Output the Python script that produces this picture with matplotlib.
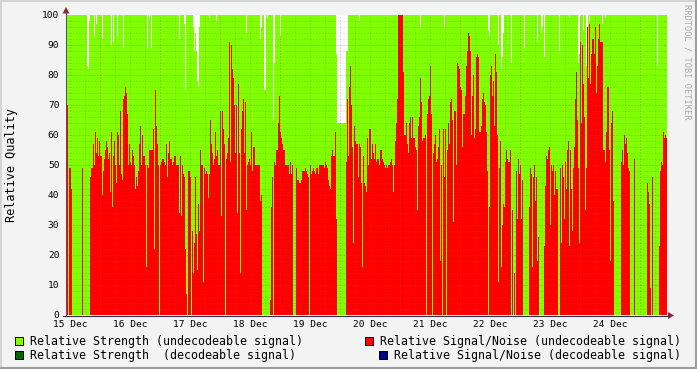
import numpy as np
import matplotlib
matplotlib.use("Agg")
import matplotlib.pyplot as plt
import matplotlib.dates as mdates
from matplotlib.patches import Rectangle, Polygon

# relative signal/noise, one value per 24 min step starting 15 Dec 10:48
snr = [
    70, 0, 49, 49, 42, 0, 0, 0, 0, 0, 0, 0, 0, 0, 0, 49, 0, 0, 0, 0,
    0, 0, 0, 46, 49, 49, 57, 50, 61, 54, 59, 53, 58, 53, 53, 40, 48, 52, 55, 58,
    56, 52, 54, 41, 61, 36, 53, 58, 50, 44, 61, 60, 50, 68, 47, 45, 72, 73, 76, 74,
    67, 50, 57, 51, 50, 55, 53, 50, 42, 46, 43, 48, 57, 63, 50, 60, 53, 53, 50, 16,
    50, 49, 55, 55, 55, 55, 62, 22, 75, 63, 57, 50, 0, 50, 51, 52, 52, 51, 50, 57,
    46, 54, 58, 52, 52, 50, 51, 53, 53, 50, 50, 50, 34, 53, 33, 50, 47, 46, 22, 7,
    0, 48, 48, 46, 0, 28, 14, 24, 46, 27, 15, 37, 28, 55, 50, 50, 11, 49, 47, 48,
    47, 39, 47, 65, 57, 54, 50, 52, 61, 53, 55, 50, 50, 68, 33, 68, 62, 57, 0, 52,
    54, 59, 91, 51, 90, 82, 79, 70, 54, 70, 34, 77, 54, 14, 62, 68, 72, 54, 71, 35,
    50, 51, 52, 50, 61, 48, 56, 56, 50, 50, 50, 50, 50, 38, 40, 0, 0, 0, 0, 0,
    0, 0, 0, 5, 36, 46, 0, 51, 50, 55, 55, 64, 73, 61, 59, 57, 55, 55, 50, 50,
    50, 50, 47, 51, 47, 50, 0, 0, 0, 49, 45, 45, 44, 44, 45, 48, 48, 48, 49, 48,
    47, 46, 0, 50, 47, 48, 49, 48, 47, 49, 49, 47, 50, 50, 50, 50, 50, 49, 51, 50,
    49, 45, 43, 42, 53, 55, 53, 53, 61, 32, 0, 0, 0, 0, 0, 0, 0, 0, 0, 51,
    72, 53, 76, 83, 70, 56, 24, 63, 58, 57, 57, 46, 57, 56, 44, 16, 53, 44, 43, 41,
    59, 50, 62, 62, 52, 57, 54, 52, 57, 51, 52, 52, 50, 55, 55, 52, 51, 50, 49, 50,
    49, 50, 50, 51, 52, 50, 41, 50, 58, 64, 72, 100, 100, 100, 100, 100, 81, 60, 60, 64,
    57, 54, 64, 66, 59, 66, 59, 59, 56, 55, 35, 63, 66, 79, 71, 58, 59, 59, 60, 0,
    67, 72, 73, 83, 67, 0, 54, 57, 60, 51, 52, 56, 62, 18, 50, 0, 62, 46, 62, 0,
    55, 64, 57, 71, 72, 65, 31, 68, 68, 50, 84, 83, 82, 76, 75, 56, 67, 67, 73, 83,
    88, 94, 93, 88, 60, 73, 80, 59, 62, 86, 87, 86, 61, 61, 63, 72, 74, 71, 70, 61,
    48, 0, 36, 80, 83, 73, 78, 63, 87, 81, 60, 11, 49, 58, 16, 30, 37, 36, 51, 55,
    52, 51, 51, 55, 0, 35, 0, 14, 0, 48, 32, 52, 47, 50, 32, 45, 0, 0, 0, 0,
    0, 0, 36, 49, 47, 16, 46, 50, 38, 46, 18, 26, 0, 0, 0, 0, 0, 23, 43, 53,
    52, 55, 56, 30, 50, 48, 50, 40, 48, 42, 42, 0, 0, 49, 24, 50, 46, 32, 51, 42,
    55, 58, 23, 55, 42, 28, 49, 56, 72, 81, 65, 49, 24, 91, 64, 90, 77, 66, 35, 49,
    96, 79, 97, 77, 87, 92, 92, 87, 96, 74, 83, 92, 97, 91, 91, 91, 55, 55, 51, 61,
    76, 76, 55, 18, 64, 68, 38, 0, 0, 0, 0, 0, 0, 0, 51, 55, 50, 60, 57, 59,
    54, 49, 48, 0, 0, 0, 0, 52, 0, 0, 0, 0, 0, 0, 0, 0, 0, 0, 0, 0,
    44, 41, 37, 9, 0, 46, 0, 0, 0, 0, 0, 0, 23, 48, 51, 50, 61, 59, 60, 59,
]

# relative strength is 100 except at these steps
dip_step = [20, 21, 22, 27, 29, 35, 44, 46, 50, 56, 80, 82, 84,
            112, 117, 118, 126, 127, 128, 129, 130, 131, 132, 142, 149, 179, 193, 194,
            197, 198, 200, 206, 207, 213, 269, 270, 271, 272, 273, 274, 275, 276, 277, 278,
            279, 280, 292, 353, 377,
            421, 422, 431, 434, 435, 436, 444, 457, 470, 474, 475, 477, 492,
            502, 511, 512, 516, 519, 520, 522, 535, 538, 590]
dip_value = [83, 82, 98, 93, 97, 92, 90, 91, 93, 89, 89, 99, 89,
             92, 97, 75, 96, 88, 94, 88, 78, 76, 96, 99, 98, 94, 92, 96,
             75, 75, 99, 65, 84, 93, 87, 64, 64, 64, 64, 64, 64, 64, 64, 64,
             88, 88, 98, 96, 96,
             95, 93, 90, 82, 86, 94, 84, 89, 91, 94, 96, 86, 88,
             99, 84, 87, 95, 83, 77, 98, 97, 99, 83]

day_labels = ['15 Dec', '16 Dec', '17 Dec', '18 Dec', '19 Dec',
              '20 Dec', '21 Dec', '22 Dec', '23 Dec', '24 Dec']

strength = np.full(len(snr), 100.0)
strength[dip_step] = dip_value

start = np.datetime64('2013-12-15T10:48')
edges = mdates.date2num(start + np.arange(len(snr) + 1) * np.timedelta64(24, 'm'))

MONO = 'DejaVu Sans Mono'
W, H = 697, 369
fig = plt.figure(figsize=(W / 100, H / 100), dpi=100, facecolor='#f3f3f3')
ax = fig.add_axes([67 / W, (H - 315) / H, 600 / W, 300 / H])
ax.set_facecolor('white')

ax.stairs(strength, edges, baseline=0, fill=True, color='#80ff00', lw=0, zorder=1)
ax.stairs(snr, edges, baseline=0, fill=True, color='#ff0000', lw=0, zorder=1.1)

ax.set_xlim(edges[0], edges[-1])
ax.set_ylim(0, 100)

minor_c = (0.4, 0.4, 0.4, 0.28)
major_c = (0.8, 0.2, 0.2, 0.45)
dots = (0, (1, 2))
for v in range(2, 100, 2):
    ax.axhline(v, color=major_c if v % 10 == 0 else minor_c, ls=dots, lw=0.72, zorder=2)
day0 = np.datetime64('2013-12-15T00:00')
for h in range(6, 11 * 24, 6):
    t = mdates.date2num(day0 + np.timedelta64(h, 'h'))
    ax.axvline(t, color=major_c if h % 24 == 0 else minor_c, ls=dots, lw=0.72, zorder=2)

noon = mdates.date2num(day0 + np.arange(len(day_labels)) * np.timedelta64(24, 'h') + np.timedelta64(12, 'h'))
ax.set_xticks(noon)
ax.set_xticklabels(day_labels, fontfamily=MONO, fontsize=6.8)
ax.set_yticks(range(0, 101, 10))
ax.set_yticklabels([str(v) for v in range(0, 101, 10)], fontfamily=MONO, fontsize=6.8)
ax.tick_params(axis='x', length=0, pad=3.5)
ax.tick_params(axis='y', length=0, pad=5.5)
for s in ax.spines.values():
    s.set_visible(False)

# overlay in pixel coordinates for frame, axes, arrows and legend
ov = fig.add_axes([0, 0, 1, 1])
ov.set_xlim(0, W)
ov.set_ylim(H, 0)
ov.axis('off')
ov.patch.set_alpha(0)

ov.plot([0, W], [0.7, 0.7], color='#d4d4d4', lw=1.5)
ov.plot([0.7, 0.7], [0, H], color='#d4d4d4', lw=1.5)
ov.plot([0, W], [H - 1, H - 1], color='#9c9c9c', lw=1.5)
ov.plot([W - 1, W - 1], [0, H], color='#9c9c9c', lw=1.5)

ov.plot([66.0, 66.0], [315.5, 12], color='#505070', lw=0.75)
ov.plot([63, 669], [315.5, 315.5], color='#303050', lw=0.8)
ov.add_patch(Polygon([(62.5, 13.5), (69.5, 13.5), (66, 7)], closed=True, color='#8b2a2a', lw=0))
ov.add_patch(Polygon([(668, 312), (668, 319), (674, 315.5)], closed=True, color='#8b2a2a', lw=0))

ov.text(12, 165, 'Relative Quality', rotation=90, ha='center', va='center',
        fontfamily=MONO, fontsize=8.5, color='black')
ov.text(687, 4, 'RRDTOOL / TOBI OETIKER', rotation=270, ha='center', va='top',
        fontfamily=MONO, fontsize=6.2, color='#a8a8a8')

legend = [
    (15, 337, '#80ff00', 'Relative Strength (undecodeable signal)'),
    (15, 351, '#006400', 'Relative Strength  (decodeable signal)'),
    (365, 337, '#ff0000', 'Relative Signal/Noise (undecodeable signal)'),
    (379, 351, '#000090', 'Relative Signal/Noise (decodeable signal)'),
]
for x, y, c, label in legend:
    ov.add_patch(Rectangle((x, y), 8, 8, facecolor=c, edgecolor='black', lw=0.7))
    ov.text(x + 15, y + 4.3, label, ha='left', va='center',
            fontfamily=MONO, fontsize=8.4, color='black')

fig.savefig('out.png', dpi=100, facecolor=fig.get_facecolor())
